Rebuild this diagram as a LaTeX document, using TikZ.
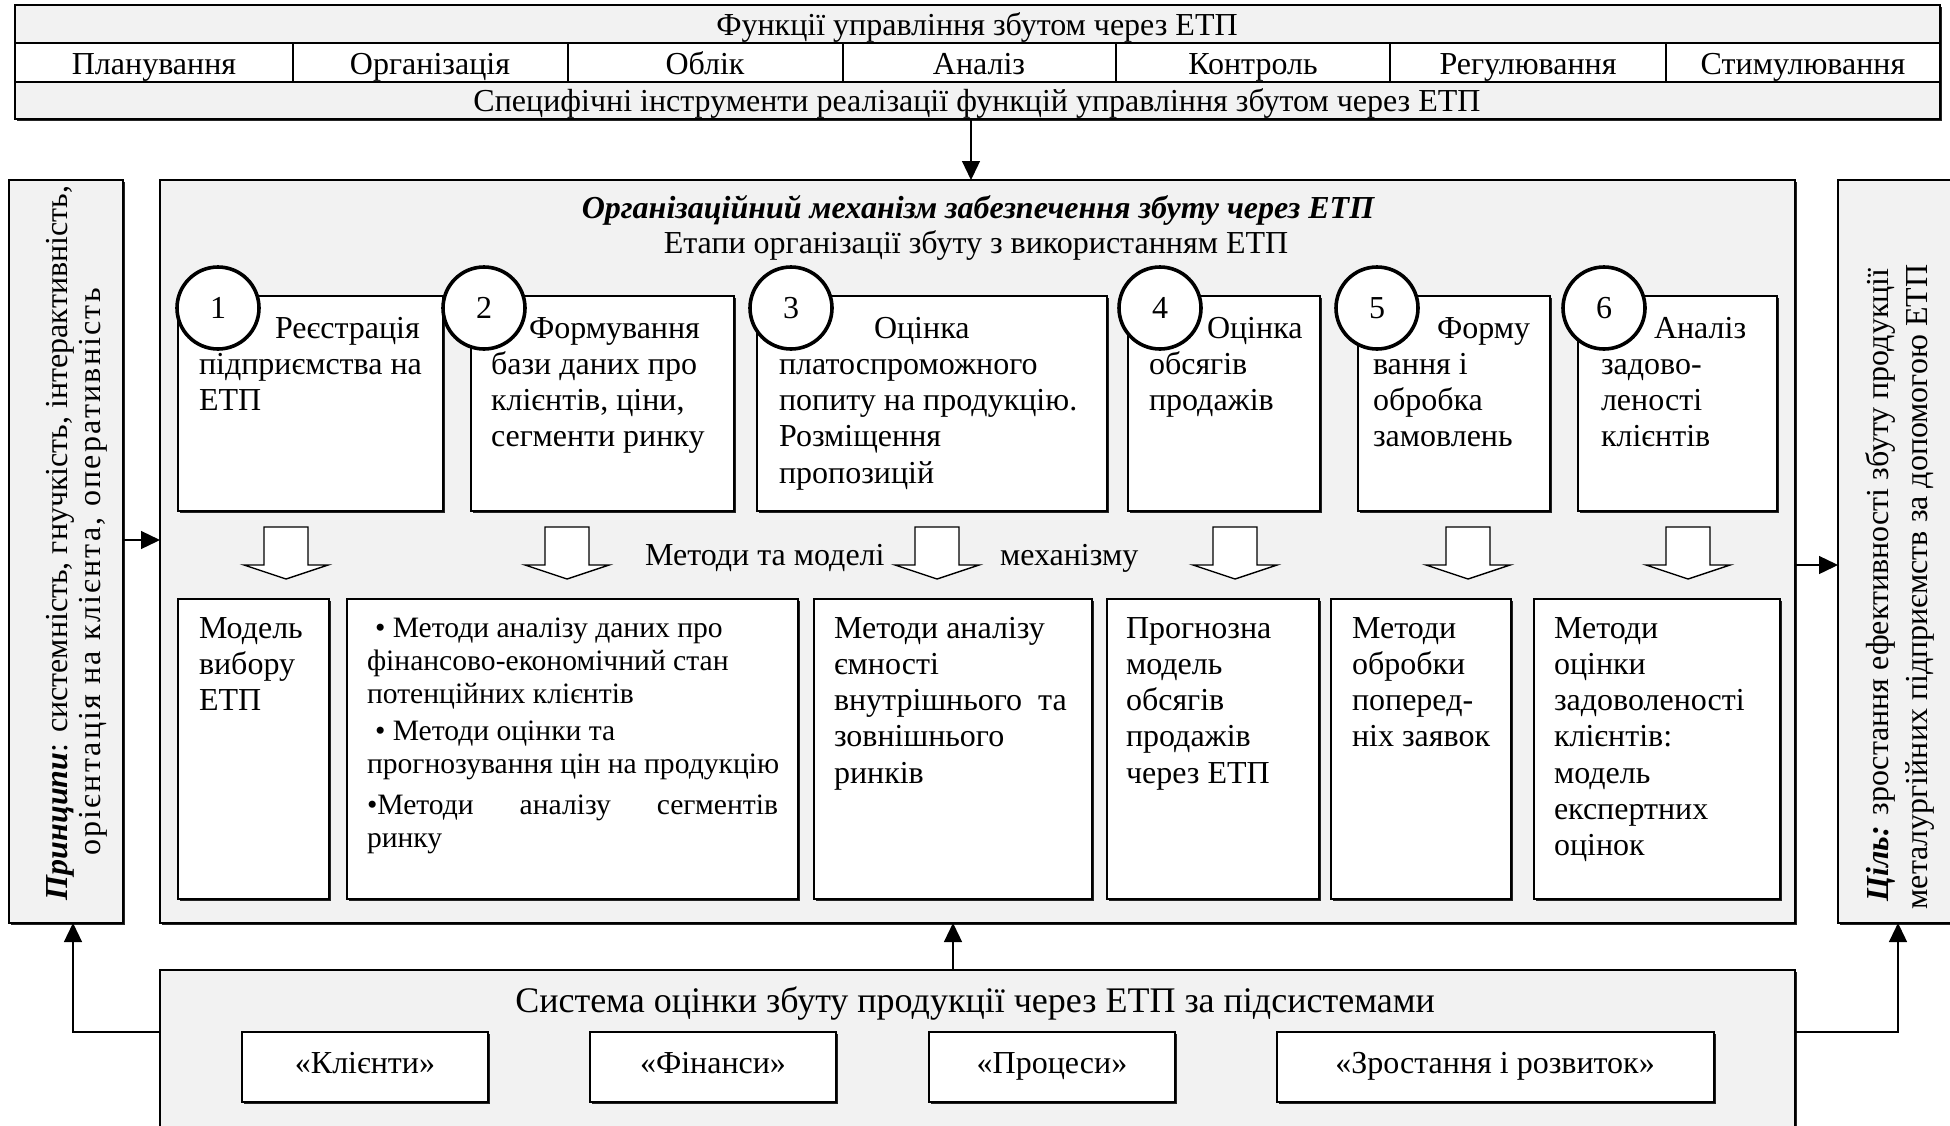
\documentclass[tikz,border=0pt]{standalone}
\usepackage{fontspec}
\setmainfont{Liberation Serif}
\usetikzlibrary{arrows.meta,shadows}
\definecolor{bg}{HTML}{F2F2F2}
\tikzset{
  base/.style={draw, line width=1.2pt, inner sep=0pt, outer sep=0pt, anchor=north west},
  wbox/.style={base, fill=white, drop shadow={shadow xshift=1.6pt, shadow yshift=-1.6pt, fill=black, opacity=0.85}},
  gbox/.style={wbox, fill=bg},
  cell/.style={base, fill=white},
  gcell/.style={base, fill=bg},
  circ/.style={circle, draw, line width=3.6pt, fill=white, minimum size=82pt, inner sep=0pt, font=\fontsize{32}{36}\selectfont},
  txt/.style={inner sep=0pt, outer sep=0pt, anchor=north west, align=left, font=\fontsize{32}{36.3}\selectfont},
  btxt/.style={txt, font=\fontsize{29.6}{33}\selectfont},
  lbl/.style={inner sep=0pt, outer sep=0pt, anchor=base, font=\fontsize{32}{36}\selectfont},
  arr/.style={line width=1.3pt, -{Triangle[length=19pt,width=18pt]}},
  hollow/.style={draw, line width=1.4pt, fill=white, line join=miter},
  rot/.style={rotate=90, inner sep=0pt, outer sep=0pt, font=\fontsize{32}{38}\selectfont}
}
\newcommand\Bx[6]{\node[#6, minimum width={(#4-#2)*1pt}, minimum height={(#5-#3)*1pt}] (#1) at (#2,#3) {};}
\newcommand\Tx[5]{\node[#1] (#2) at (#3,#4-29) {\rule{0pt}{29pt}#5};}
\newcommand\Hollow[1]{\draw[hollow] (#1-22,527) -- (#1+22,527) -- (#1+22,565) -- (#1+42,565) -- (#1,579) -- (#1-42,565) -- (#1-22,565) -- cycle;}
\begin{document}
\begin{tikzpicture}[x=1pt,y=-1pt]
\useasboundingbox (0,0) rectangle (1950,1125);
\fill[white] (0,0) rectangle (1950,1125);

% ---------- top block ----------
\Bx{topframe}{15}{5}{1940}{119}{wbox}
\Bx{top1}{15}{5}{1940}{43}{gcell}
\Bx{top3}{15}{82}{1940}{119}{gcell}
\Bx{f1}{15}{43}{293}{82}{cell}
\Bx{f2}{293}{43}{568}{82}{cell}
\Bx{f3}{568}{43}{843}{82}{cell}
\Bx{f4}{843}{43}{1116}{82}{cell}
\Bx{f5}{1116}{43}{1390}{82}{cell}
\Bx{f6}{1390}{43}{1666}{82}{cell}
\Bx{f7}{1666}{43}{1940}{82}{cell}
\node[lbl] (t1) at (977,35) {Функції управління збутом через ЕТП};
\node[lbl] (l1) at (154,74) {Планування};
\node[lbl] (l2) at (430,74) {Організація};
\node[lbl] (l3) at (705,74) {Облік};
\node[lbl] (l4) at (979,74) {Аналіз};
\node[lbl] (l5) at (1253,74) {Контроль};
\node[lbl] (l6) at (1528,74) {Регулювання};
\node[lbl] (l7) at (1803,74) {Стимулювання};
\node[lbl] (t3) at (977,111) {Специфічні інструменти реалізації функцій управління збутом через ЕТП};

% ---------- main frames ----------
\Bx{pleft}{9}{180}{123}{923}{gbox}
\Bx{pmain}{160}{180}{1795}{923}{gbox}
\Bx{pright}{1838}{180}{1975}{923}{gbox}
\Bx{pbottom}{160}{970}{1795}{1150}{gbox}

\node[rot] (ptxt1) at (60,543) {\textbf{\textit{Принципи}}: системність, гнучкість, інтерактивність,};
\node[rot] (ptxt2) at (93,572) {\addfontfeature{LetterSpace=7.0}орієнтація на клієнта, оперативність};
\node[rot] (gtxt1) at (1880,585) {\textbf{\textit{Ціль:}} зростання ефективності збуту продукції};
\node[rot] (gtxt2) at (1920,587) {металургійних підприємств за допомогою ЕТП};

% ---------- connectors ----------
\coordinate (ax) at (971,0);
\coordinate (ly) at (0,540);
\coordinate (ry) at (0,565);
\coordinate (bx) at (953,0);
\coordinate (by) at (0,1032);
\coordinate (lx) at (73,0);
\coordinate (rx) at (1898,0);
\draw[arr] (top3.south -| ax) -- (pmain.north -| ax);
\draw[arr] (pleft.east |- ly) -- (pmain.west |- ly);
\draw[arr] (pmain.east |- ry) -- (pright.west |- ry);
\draw[arr] (pbottom.north -| bx) -- (pmain.south -| bx);
\draw[arr] (pbottom.west |- by) -| (pleft.south -| lx);
\draw[arr] (pbottom.east |- by) -| (pright.south -| rx);

% ---------- main box content ----------
\node[lbl, font=\bfseries\itshape\fontsize{32}{36}\selectfont] (title) at (978,218) {Організаційний механізм забезпечення збуту через ЕТП};
\node[lbl] (sub) at (976,253) {Етапи організації збуту з використанням ЕТП};

\Bx{s1}{178}{296}{443}{511}{wbox}
\Bx{s2}{471}{296}{734}{511}{wbox}
\Bx{s3}{757}{296}{1107}{511}{wbox}
\Bx{s4}{1128}{296}{1320}{511}{wbox}
\Bx{s5}{1358}{296}{1550}{511}{wbox}
\Bx{s6}{1578}{296}{1777}{511}{wbox}

\node[circ] (c1) at (218,308) {1};
\node[circ] (c2) at (484,308) {2};
\node[circ] (c3) at (791,308) {3};
\node[circ] (c4) at (1160,308) {4};
\node[circ] (c5) at (1377,308) {5};
\node[circ] (c6) at (1604,308) {6};

\Tx{txt}{st1}{199}{338}{\hspace*{76pt}Реєстрація\\підприємства на\\ЕТП}
\Tx{txt}{st2}{491}{338}{\hspace*{38pt}Формування\\бази даних про\\клієнтів, ціни,\\сегменти ринку}
\Tx{txt}{st3}{779}{338}{\hspace*{95pt}Оцінка\\платоспроможного\\попиту на продукцію.\\Розміщення\\пропозицій}
\Tx{txt}{st4}{1149}{338}{\hspace*{58pt}Оцінка\\обсягів\\продажів}
\Tx{txt}{st5}{1373}{338}{\hspace*{64pt}Форму\\вання і\\обробка\\замовлень}
\Tx{txt}{st6}{1601}{338}{\hspace*{53pt}Аналіз\\задово-\\леності\\клієнтів}

\node[lbl, anchor=base west] (mm1) at (645,565) {Методи та моделі};
\node[lbl, anchor=base west] (mm2) at (1000,565) {механізму};

\Hollow{286}
\Hollow{567}
\Hollow{937}
\Hollow{1235}
\Hollow{1468}
\Hollow{1688}

\Bx{m1}{178}{599}{329}{899}{wbox}
\Bx{m2}{347}{599}{798}{899}{wbox}
\Bx{m3}{814}{599}{1092}{899}{wbox}
\Bx{m4}{1107}{599}{1319}{899}{wbox}
\Bx{m5}{1331}{599}{1511}{899}{wbox}
\Bx{m6}{1534}{599}{1780}{899}{wbox}

\Tx{txt}{mt1}{199}{638}{Модель\\вибору\\ЕТП}
\Tx{btxt}{mt2}{367}{637}{\hspace*{8pt}• Методи аналізу даних про\\фінансово-економічний стан\\потенційних клієнтів\\[4pt]\hspace*{8pt}• Методи оцінки та\\прогнозування цін на продукцію\\[8pt]\hbox to 411pt{•Методи\hfill аналізу\hfill сегментів}\\ринку}
\Tx{txt}{mt3}{834}{638}{Методи аналізу\\ємності\\внутрішнього\ \ та\\зовнішнього\\ринків}
\Tx{txt}{mt4}{1126}{638}{Прогнозна\\модель\\обсягів\\продажів\\через ЕТП}
\Tx{txt}{mt5}{1352}{638}{Методи\\обробки\\поперед-\\ніх заявок}
\Tx{txt}{mt6}{1554}{638}{Методи\\оцінки\\задоволеності\\клієнтів:\\модель\\експертних\\оцінок}

% ---------- bottom block ----------
\node[lbl, font=\fontsize{36}{40}\selectfont] (systitle) at (975,1012) {Система оцінки збуту продукції через ЕТП за підсистемами};
\Bx{b1}{242}{1032}{488}{1102}{wbox}
\Bx{b2}{590}{1032}{836}{1102}{wbox}
\Bx{b3}{929}{1032}{1175}{1102}{wbox}
\Bx{b4}{1277}{1032}{1714}{1102}{wbox}
\node[lbl] (bt1) at (365,1073) {«Клієнти»};
\node[lbl] (bt2) at (713,1073) {«Фінанси»};
\node[lbl] (bt3) at (1052,1073) {«Процеси»};
\node[lbl] (bt4) at (1495,1073) {«Зростання і розвиток»};
\end{tikzpicture}
\end{document}
